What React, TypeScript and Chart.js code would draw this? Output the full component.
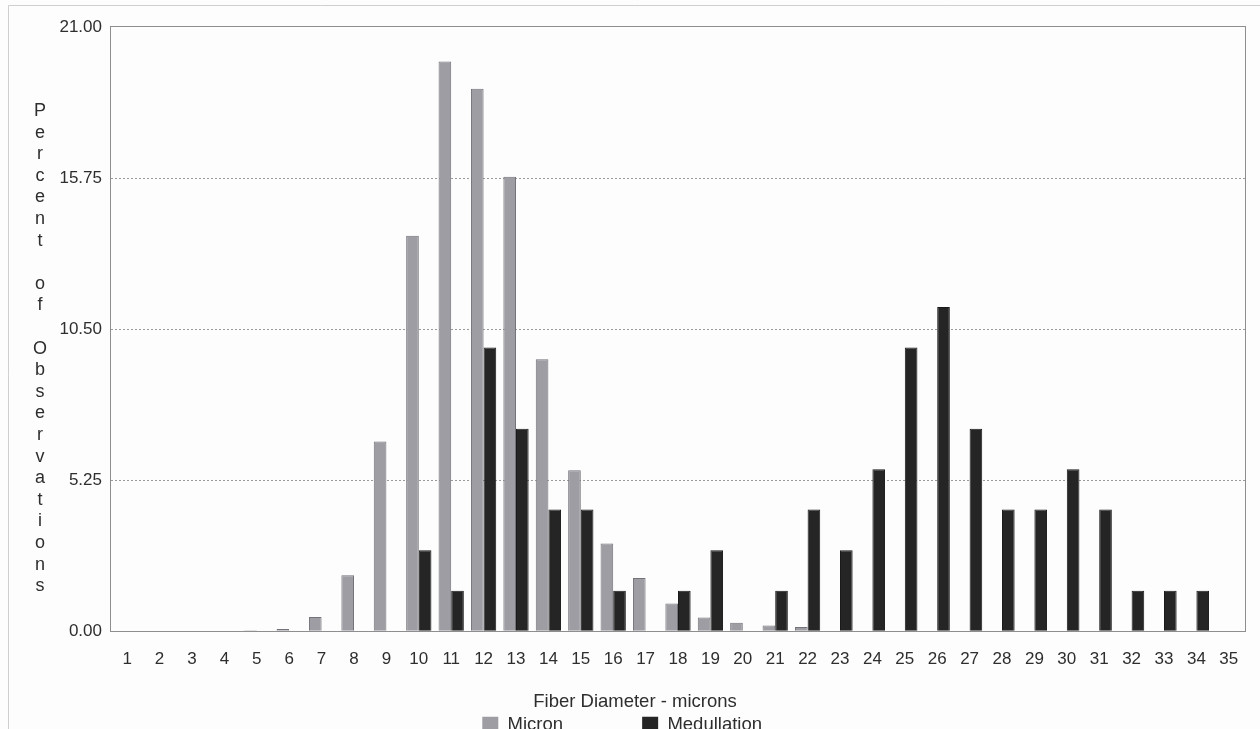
import React, { useEffect, useRef } from "react";
import { Chart, registerables } from "chart.js";

Chart.register(...registerables);

const categories = [
  "1", "2", "3", "4", "5", "6", "7", "8", "9", "10", "11", "12", "13", "14", "15", "16", "17", "18",
  "19", "20", "21", "22", "23", "24", "25", "26", "27", "28", "29", "30", "31", "32", "33", "34", "35",
];
const micron = [
  0, 0, 0, 0, 0.04, 0.08, 0.5, 1.95, 6.6, 13.75, 19.8, 18.85, 15.8, 9.45, 5.6, 3.05, 1.85, 0.97,
  0.48, 0.3, 0.2, 0.15, 0, 0, 0, 0, 0, 0, 0, 0, 0, 0, 0, 0, 0,
];
const medullation = [
  0, 0, 0, 0, 0, 0, 0, 0, 0, 2.82, 1.41, 9.86, 7.04, 4.23, 4.23, 1.41, 0, 1.41,
  2.82, 0, 1.41, 4.23, 2.82, 5.63, 9.86, 11.27, 7.04, 4.23, 4.23, 5.63, 4.23, 1.41, 1.41, 1.41, 0,
];
const seriesNames = ["Micron", "Medullation"];
const yMin = 0;
const yMax = 21;
const yStep = 5.25;
const yTitle = "Percent of Observations";
const xTitle = "Fiber Diameter - microns";

const FONT = "'Liberation Sans', Arial, Helvetica, sans-serif";
const TEXT = "#2e2e2e";

const pagePlugin = {
  id: "pageDecor",
  beforeDraw(chart: any) {
    const ctx = chart.ctx;
    ctx.save();
    ctx.fillStyle = "#fdfdfd";
    ctx.fillRect(0, 0, chart.width, chart.height);
    ctx.strokeStyle = "#cfcfcf";
    ctx.lineWidth = 1;
    ctx.beginPath();
    ctx.moveTo(8.5, chart.height);
    ctx.lineTo(8.5, 5.5);
    ctx.lineTo(chart.width, 5.5);
    ctx.stroke();
    ctx.restore();
  },
  afterDatasetsDraw(chart: any) {
    const { ctx, chartArea } = chart;
    ctx.save();
    ctx.strokeStyle = "#8e8e8e";
    ctx.lineWidth = 1;
    ctx.strokeRect(
      Math.round(chartArea.left) - 0.5,
      Math.round(chartArea.top) - 0.5,
      Math.round(chartArea.right - chartArea.left) + 1,
      Math.round(chartArea.bottom - chartArea.top) + 1
    );
    ctx.restore();
  },
  afterDraw(chart: any) {
    const ctx = chart.ctx;
    ctx.save();
    ctx.fillStyle = TEXT;
    ctx.font = `18px ${FONT}`;
    ctx.textAlign = "center";
    ctx.textBaseline = "middle";
    const chars = yTitle.split("");
    const startY = 111;
    const step = 21.6;
    chars.forEach((c, i) => {
      if (c !== " ") ctx.fillText(c, 40, startY + i * step);
    });
    ctx.restore();
  },
};

export default function App() {
  const ref = useRef<HTMLCanvasElement>(null);

  useEffect(() => {
    document.body.style.margin = "0";
    document.body.style.overflow = "hidden";
    document.documentElement.style.overflow = "hidden";
    const chart = new Chart(ref.current as HTMLCanvasElement, {
      type: "bar",
      data: {
        labels: categories,
        datasets: [
          {
            label: seriesNames[0],
            data: micron,
            backgroundColor: "#9e9da4",
            borderColor: "#74737a",
            borderWidth: 1,
          },
          {
            label: seriesNames[1],
            data: medullation,
            backgroundColor: "#252525",
            borderColor: "#1a1a1a",
            borderWidth: 1,
          },
        ],
      },
      options: {
        animation: false,
        responsive: false,
        devicePixelRatio: 1,
        layout: { padding: { left: 25, right: 15, top: 27, bottom: 0 } },
        datasets: {
          bar: { categoryPercentage: 0.78, barPercentage: 1.0 },
        },
        scales: {
          x: {
            afterFit(scale: any) {
              scale.height = 55;
            },
            grid: { display: false, drawTicks: false },
            border: { display: false },
            ticks: {
              autoSkip: false,
              maxRotation: 0,
              minRotation: 0,
              padding: 18,
              color: TEXT,
              font: { family: FONT, size: 17 },
            },
          },
          y: {
            min: yMin,
            max: yMax,
            afterFit(scale: any) {
              scale.width = 86;
            },
            border: { display: false, dash: [2, 2] },
            grid: {
              drawTicks: false,
              color: (c: any) =>
                c.tick && (c.tick.value === yMin || c.tick.value === yMax) ? "rgba(0,0,0,0)" : "#9a9a9a",
              lineWidth: 1,
            },
            ticks: {
              stepSize: yStep,
              padding: 9,
              color: TEXT,
              font: { family: FONT, size: 17 },
              callback: (v: any) => Number(v).toFixed(2),
            },
          },
        },
        plugins: {
          tooltip: { enabled: false },
          title: {
            display: true,
            text: xTitle,
            position: "bottom",
            weight: 500,
            color: TEXT,
            font: { family: FONT, size: 18.5, weight: "normal" },
            padding: { top: 5, bottom: 0 },
          },
          legend: {
            display: true,
            position: "bottom",
            weight: 1000,
            labels: {
              color: TEXT,
              font: { family: FONT, size: 18.5 },
              boxWidth: 16,
              boxHeight: 16,
              padding: 2,
              generateLabels: (chart: any) =>
                chart.data.datasets.map((ds: any, i: number) => ({
                  text: ds.label + (i === 0 ? "               " : "     "),
                  fillStyle: ds.backgroundColor,
                  strokeStyle: ds.backgroundColor,
                  lineWidth: 0,
                  hidden: false,
                  datasetIndex: i,
                  fontColor: TEXT,
                })),
            },
          },
        },
      } as any,
      plugins: [pagePlugin],
    });
    return () => chart.destroy();
  }, []);

  return (
    <div style={{ width: 1260, height: 744 }}>
      <canvas ref={ref} width={1260} height={744} style={{ display: "block" }} />
    </div>
  );
}
